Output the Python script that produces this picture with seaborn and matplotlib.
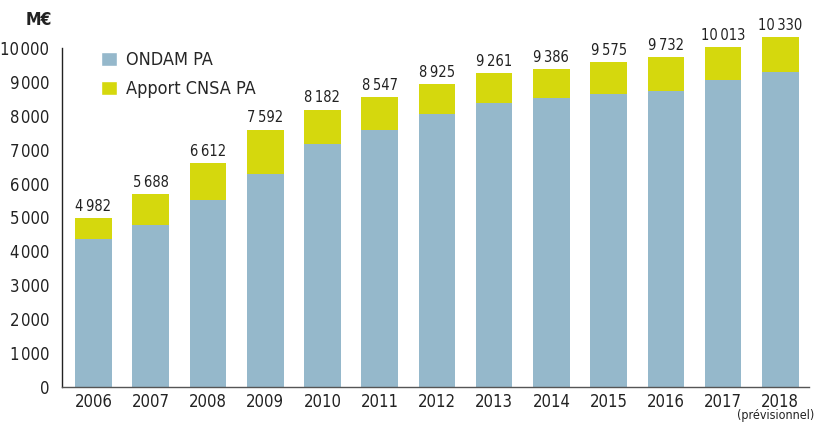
import matplotlib
matplotlib.use("Agg")
import matplotlib.pyplot as plt
import seaborn as sns
import pandas as pd
from matplotlib.patches import Patch

# données (M€)
annees = ["2006", "2007", "2008", "2009", "2010", "2011", "2012",
          "2013", "2014", "2015", "2016", "2017", "2018"]
total = [4982, 5688, 6612, 7592, 8182, 8547, 8925,
         9261, 9386, 9575, 9732, 10013, 10330]
ondam = [4360, 4775, 5520, 6285, 7170, 7585, 8055,
         8375, 8530, 8650, 8730, 9060, 9300]
yticks = [0, 1000, 2000, 3000, 4000, 5000, 6000, 7000, 8000, 9000, 10000]

bleu = "#95B8CB"
jaune = "#D5D80D"

df = pd.DataFrame({"annee": annees, "total": total, "ondam": ondam})
df["apport"] = df["total"] - df["ondam"]

sns.set_style("white")
plt.rcParams["font.family"] = ["DejaVu Sans"]
plt.rcParams["font.stretch"] = "condensed"

fig = plt.figure(figsize=(8.19, 4.23), dpi=100)
ax = fig.add_axes([0.0757, 0.085, 0.912, 0.882])

sns.barplot(data=df, x="annee", y="total", color=jaune, width=0.64,
            saturation=1, linewidth=0, ax=ax)
sns.barplot(data=df, x="annee", y="ondam", color=bleu, width=0.64,
            saturation=1, linewidth=0, ax=ax)

def fmt(v, sep="\u2009"):
    return f"{v:,}".replace(",", sep)

ax.bar_label(ax.containers[0], labels=[fmt(v) for v in df["total"]],
             padding=3, fontsize=10.5, color="#222222")

ax.set_xlim(-0.55, 12.5)
ax.set_ylim(0, 11000)
ax.set_yticks(yticks)
ax.set_yticklabels([fmt(v, "\u200a") for v in yticks])
ax.set_xlabel("")
ax.set_ylabel("")

for s in ["top", "right"]:
    ax.spines[s].set_visible(False)
ax.spines["left"].set_bounds(0, 10000)
ax.spines["left"].set_color("#222222")
ax.spines["bottom"].set_color("#555555")
ax.spines["left"].set_linewidth(1.0)
ax.spines["bottom"].set_linewidth(1.0)

ax.tick_params(axis="y", direction="in", length=6, width=1,
               color="#555555", pad=9, labelsize=12, labelcolor="#222222")
ax.tick_params(axis="x", which="major", length=0, pad=4, labelsize=12,
               labelcolor="#222222")
ax.set_xticks([i + 0.5 for i in range(-1, 13)], minor=True)
ax.tick_params(axis="x", which="minor", direction="out", length=5, width=1,
               color="#555555")

fig.text(776 / 819, 1 / 423, "(prévisionnel)", ha="center", va="bottom",
         fontsize=9, color="#222222")

fig.text(52 / 819, 1 - 20 / 423, "M€", ha="right", va="center",
         fontsize=12.5, fontweight="bold", color="#222222")

handles = [Patch(facecolor=bleu, label="ONDAM PA"),
           Patch(facecolor=jaune, label="Apport CNSA PA")]
fig.legend(handles=handles, loc="upper left",
           bbox_to_anchor=(94 / 819, 1 - 44 / 423), frameon=False,
           fontsize=13, handlelength=0.85, handleheight=0.85,
           handletextpad=0.5, labelspacing=0.6, borderaxespad=0)

fig.savefig("out.png", dpi=100)
